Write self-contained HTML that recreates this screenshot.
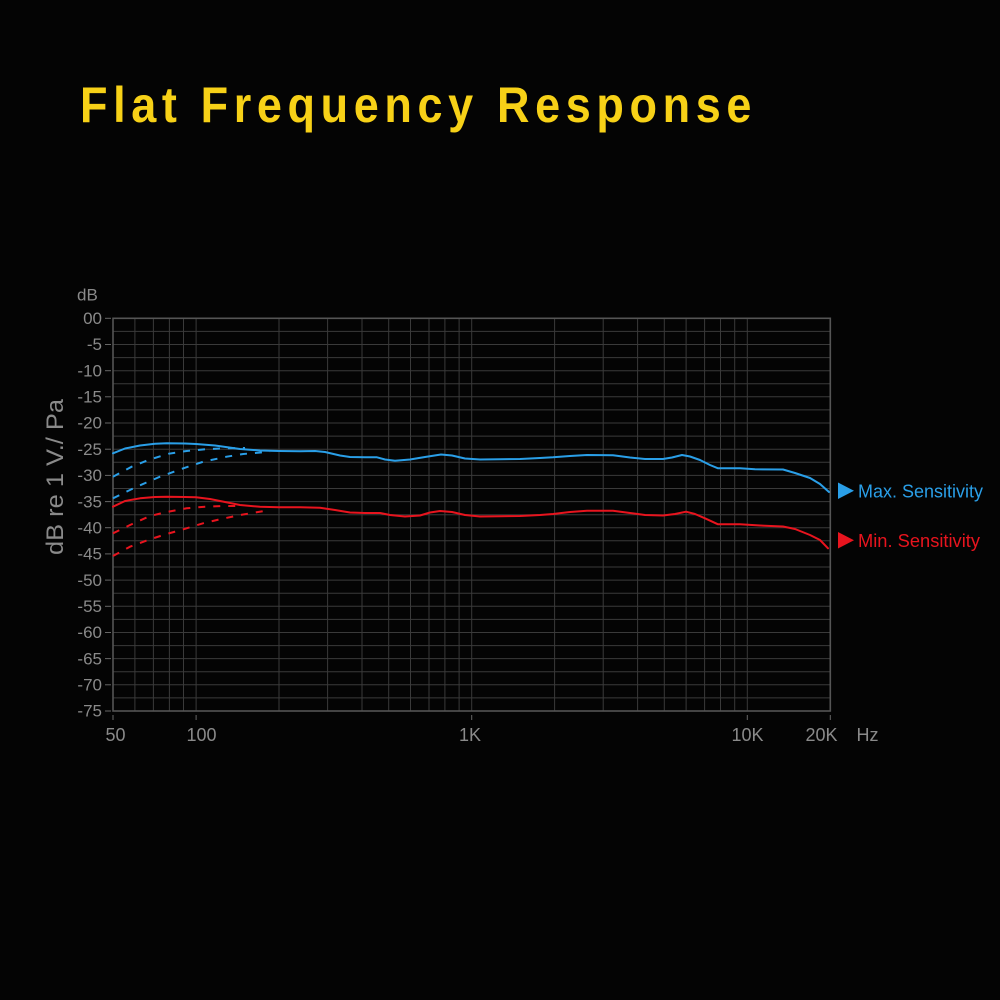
<!DOCTYPE html>
<html>
<head>
<meta charset="utf-8">
<style>
  html, body { margin:0; padding:0; background:#040404; }
  body { width:1000px; height:1000px; overflow:hidden; }
  svg { display:block; }
</style>
</head>
<body>
<svg width="1000" height="1000" viewBox="0 0 1000 1000" xmlns="http://www.w3.org/2000/svg">
  <rect x="0" y="0" width="1000" height="1000" fill="#040404"/>

  <!-- Title -->
  <text transform="translate(80,122) scale(0.9,1)" x="0" y="0" font-family="Liberation Sans, Arial, sans-serif" font-weight="bold" font-size="50" fill="#f7d117" textLength="746" lengthAdjust="spacing">Flat Frequency Response</text>

  <!-- Horizontal grid lines (every 2.5 dB) -->
  <g stroke="#3a3a3a" stroke-width="1">
    <line x1="113" x2="830" y1="331.4" y2="331.4"/>
    <line x1="113" x2="830" y1="344.5" y2="344.5"/>
    <line x1="113" x2="830" y1="357.6" y2="357.6"/>
    <line x1="113" x2="830" y1="370.7" y2="370.7"/>
    <line x1="113" x2="830" y1="383.8" y2="383.8"/>
    <line x1="113" x2="830" y1="396.8" y2="396.8"/>
    <line x1="113" x2="830" y1="409.9" y2="409.9"/>
    <line x1="113" x2="830" y1="423.0" y2="423.0"/>
    <line x1="113" x2="830" y1="436.1" y2="436.1"/>
    <line x1="113" x2="830" y1="449.2" y2="449.2"/>
    <line x1="113" x2="830" y1="462.3" y2="462.3"/>
    <line x1="113" x2="830" y1="475.4" y2="475.4"/>
    <line x1="113" x2="830" y1="488.5" y2="488.5"/>
    <line x1="113" x2="830" y1="501.6" y2="501.6"/>
    <line x1="113" x2="830" y1="514.7" y2="514.7"/>
    <line x1="113" x2="830" y1="527.7" y2="527.7"/>
    <line x1="113" x2="830" y1="540.8" y2="540.8"/>
    <line x1="113" x2="830" y1="553.9" y2="553.9"/>
    <line x1="113" x2="830" y1="567.0" y2="567.0"/>
    <line x1="113" x2="830" y1="580.1" y2="580.1"/>
    <line x1="113" x2="830" y1="593.2" y2="593.2"/>
    <line x1="113" x2="830" y1="606.3" y2="606.3"/>
    <line x1="113" x2="830" y1="619.4" y2="619.4"/>
    <line x1="113" x2="830" y1="632.5" y2="632.5"/>
    <line x1="113" x2="830" y1="645.6" y2="645.6"/>
    <line x1="113" x2="830" y1="658.6" y2="658.6"/>
    <line x1="113" x2="830" y1="671.7" y2="671.7"/>
    <line x1="113" x2="830" y1="684.8" y2="684.8"/>
    <line x1="113" x2="830" y1="697.9" y2="697.9"/>
  </g>

  <!-- Vertical grid lines (log) -->
  <g stroke="#3a3a3a" stroke-width="1">
    <line y1="318.3" y2="711" x1="134.9" x2="134.9"/>
    <line y1="318.3" y2="711" x1="153.4" x2="153.4"/>
    <line y1="318.3" y2="711" x1="169.4" x2="169.4"/>
    <line y1="318.3" y2="711" x1="183.5" x2="183.5"/>
    <line y1="318.3" y2="711" x1="196.1" x2="196.1"/>
    <line y1="318.3" y2="711" x1="279.0" x2="279.0"/>
    <line y1="318.3" y2="711" x1="327.6" x2="327.6"/>
    <line y1="318.3" y2="711" x1="362.0" x2="362.0"/>
    <line y1="318.3" y2="711" x1="388.7" x2="388.7"/>
    <line y1="318.3" y2="711" x1="410.5" x2="410.5"/>
    <line y1="318.3" y2="711" x1="429.0" x2="429.0"/>
    <line y1="318.3" y2="711" x1="444.9" x2="444.9"/>
    <line y1="318.3" y2="711" x1="459.1" x2="459.1"/>
    <line y1="318.3" y2="711" x1="471.7" x2="471.7"/>
    <line y1="318.3" y2="711" x1="554.6" x2="554.6"/>
    <line y1="318.3" y2="711" x1="603.2" x2="603.2"/>
    <line y1="318.3" y2="711" x1="637.6" x2="637.6"/>
    <line y1="318.3" y2="711" x1="664.3" x2="664.3"/>
    <line y1="318.3" y2="711" x1="686.1" x2="686.1"/>
    <line y1="318.3" y2="711" x1="704.6" x2="704.6"/>
    <line y1="318.3" y2="711" x1="720.5" x2="720.5"/>
    <line y1="318.3" y2="711" x1="734.7" x2="734.7"/>
    <line y1="318.3" y2="711" x1="747.3" x2="747.3"/>
  </g>

  <!-- Plot border -->
  <rect x="113" y="318.3" width="717.3" height="392.7" fill="none" stroke="#555555" stroke-width="1.6"/>

  <!-- Y ticks -->
  <g stroke="#666" stroke-width="1">
    <line x1="105" x2="111" y1="318.3" y2="318.3"/>
    <line x1="105" x2="111" y1="344.5" y2="344.5"/>
    <line x1="105" x2="111" y1="370.7" y2="370.7"/>
    <line x1="105" x2="111" y1="396.8" y2="396.8"/>
    <line x1="105" x2="111" y1="423.0" y2="423.0"/>
    <line x1="105" x2="111" y1="449.2" y2="449.2"/>
    <line x1="105" x2="111" y1="475.4" y2="475.4"/>
    <line x1="105" x2="111" y1="501.6" y2="501.6"/>
    <line x1="105" x2="111" y1="527.7" y2="527.7"/>
    <line x1="105" x2="111" y1="553.9" y2="553.9"/>
    <line x1="105" x2="111" y1="580.1" y2="580.1"/>
    <line x1="105" x2="111" y1="606.3" y2="606.3"/>
    <line x1="105" x2="111" y1="632.5" y2="632.5"/>
    <line x1="105" x2="111" y1="658.6" y2="658.6"/>
    <line x1="105" x2="111" y1="684.8" y2="684.8"/>
    <line x1="105" x2="111" y1="711" y2="711"/>
  </g>

  <!-- X ticks -->
  <g stroke="#666" stroke-width="1">
    <line x1="113" x2="113" y1="715" y2="720"/>
    <line x1="196.1" x2="196.1" y1="715" y2="720"/>
    <line x1="471.7" x2="471.7" y1="715" y2="720"/>
    <line x1="747.3" x2="747.3" y1="715" y2="720"/>
    <line x1="830.3" x2="830.3" y1="715" y2="720"/>
  </g>

  <!-- Y labels -->
  <g font-family="Liberation Sans, Arial, sans-serif" font-size="17" fill="#8a8a8a" text-anchor="end">
    <text x="77" y="300.5" text-anchor="start">dB</text>
    <text x="102" y="324">00</text>
    <text x="102" y="350.2">-5</text>
    <text x="102" y="376.4">-10</text>
    <text x="102" y="402.5">-15</text>
    <text x="102" y="428.7">-20</text>
    <text x="102" y="454.9">-25</text>
    <text x="102" y="481.1">-30</text>
    <text x="102" y="507.3">-35</text>
    <text x="102" y="533.4">-40</text>
    <text x="102" y="559.6">-45</text>
    <text x="102" y="585.8">-50</text>
    <text x="102" y="612.0">-55</text>
    <text x="102" y="638.2">-60</text>
    <text x="102" y="664.3">-65</text>
    <text x="102" y="690.5">-70</text>
    <text x="102" y="716.7">-75</text>
  </g>

  <!-- Rotated axis label -->
  <text transform="translate(63,477) rotate(-90)" x="0" y="0" text-anchor="middle" font-family="Liberation Sans, Arial, sans-serif" font-size="24" fill="#8a8a8a" textLength="156" lengthAdjust="spacingAndGlyphs">dB re 1 V./ Pa</text>

  <!-- X labels -->
  <g font-family="Liberation Sans, Arial, sans-serif" font-size="18" fill="#8a8a8a" text-anchor="middle">
    <text x="115.5" y="741">50</text>
    <text x="201.5" y="741">100</text>
    <text x="470" y="741">1K</text>
    <text x="747.5" y="741">10K</text>
    <text x="821.5" y="741">20K</text>
    <text x="856.5" y="741" text-anchor="start">Hz</text>
  </g>

  <!-- Dashed lines -->
  <g fill="none" stroke-width="2" stroke-dasharray="7 8" stroke-linecap="butt">
    <polyline stroke="#2a9fe8" points="113,476.7 131.7,466.7 148.3,460 168.3,453.8 186.7,451 205,449.3 225,448.3 245,448"/>
    <polyline stroke="#2a9fe8" points="113,498.3 136.7,486.7 160,476.7 183.3,468.3 203.3,461.7 226.7,456.7 243.3,454 270,451.7"/>
    <polyline stroke="#e8141e" points="113,533.3 130,525 150,516 168,511.7 186.7,508.3 205,506.7 223,506 242,506"/>
    <polyline stroke="#e8141e" points="113,556 130,546.7 150,539.3 166.7,534 183.3,529.3 203,523.3 220,519.3 240,515 270,510"/>
  </g>

  <!-- Max sensitivity curve -->
  <polyline fill="none" stroke="#2a9fe8" stroke-width="2" stroke-linejoin="round" stroke-linecap="round"
    points="113,453.3 125,448.5 140,445.5 155,443.8 167,443.3 185,443.5 196,444 215,445.5 240,449 260,450.5 279,451 300,451.3 315,451 325,452 340,455.5 350,457 365,457.3 377,457.3 385,459.5 395,460.8 410,459.5 425,457 441,454.5 452,455.5 465,458.5 480,459.5 500,459.3 520,459 540,458 553,457.3 570,456 587,455 613,455.3 630,457.5 645,459 663,459 672,457.5 682,455 690,456.5 700,460 710,465 718,468.3 740,468.3 755,469.3 783,469.5 795,473 810,478 820,484 829,492"/>

  <!-- Min sensitivity curve -->
  <polyline fill="none" stroke="#e8141e" stroke-width="2" stroke-linejoin="round" stroke-linecap="round"
    points="113,506.7 125,501 140,498.3 155,497 167,496.7 185,497 196,497.3 210,499 225,502 240,505 260,506.8 279,507.3 300,507.3 320,507.7 335,510 350,512.5 365,513 380,513 390,515 405,516.5 420,515.5 430,512.5 440,511 452,512 465,515 480,516.5 500,516.3 520,516 540,515 553,514 570,512 587,510.7 613,510.7 630,513 645,515 663,515.5 675,514 686,511.7 695,514 705,518.3 718,524.3 740,524.3 760,525.5 783,526.5 795,529 810,535 820,540 828,548.3"/>

  <!-- Legend -->
  <polygon points="838,482.5 854,490.7 838,499" fill="#2a9fe8"/>
  <text x="858" y="497.5" font-family="Liberation Sans, Arial, sans-serif" font-size="18" fill="#2a9fe8" textLength="125" lengthAdjust="spacingAndGlyphs">Max. Sensitivity</text>
  <polygon points="838,532 854,540.2 838,548.5" fill="#e8141e"/>
  <text x="858" y="547" font-family="Liberation Sans, Arial, sans-serif" font-size="18" fill="#e8141e" textLength="122" lengthAdjust="spacingAndGlyphs">Min. Sensitivity</text>
</svg>
</body>
</html>
